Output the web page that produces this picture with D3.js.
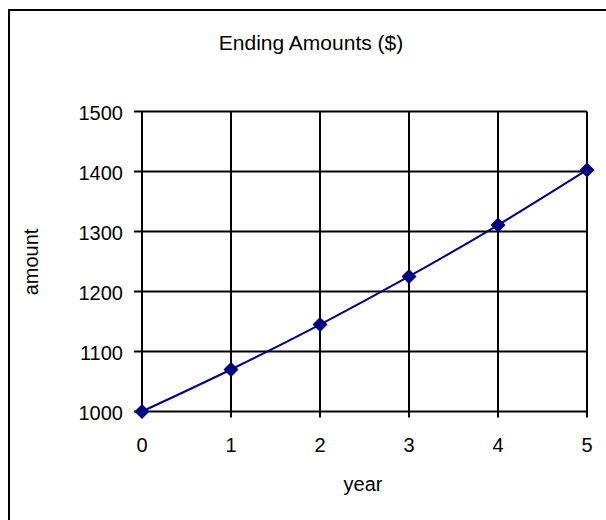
<!DOCTYPE html>
<html><head><meta charset="utf-8">
<script src="https://cdn.jsdelivr.net/npm/d3@7"></script>
<style>body{margin:0;background:#fff}svg{display:block}</style>
</head><body>
<svg id="c" width="606" height="520"></svg>
<script>
const years = [0, 1, 2, 3, 4, 5];
const amounts = [1000, 1070, 1144.9, 1225.04, 1310.8, 1402.55];
const yTicks = [1000, 1100, 1200, 1300, 1400, 1500];
const title = "Ending Amounts ($)";
const xLabel = "year";
const yLabel = "amount";

const svg = d3.select("#c");
const font = "'Liberation Sans', Arial, sans-serif";
const L = 142, R = 587, T = 111.5, B = 411.5;
const x = d3.scaleLinear().domain([0, 5]).range([L, R]);
const y = d3.scaleLinear().domain([1000, 1500]).range([B, T]);

// outer border (only top and left visible)
svg.append("rect").attr("x", 9).attr("y", 10).attr("width", 700).attr("height", 600)
  .attr("fill", "none").attr("stroke", "#000").attr("stroke-width", 2);

svg.append("text").attr("x", 311).attr("y", 50).attr("text-anchor", "middle")
  .attr("font-family", font).attr("font-size", 21).text(title);

const g = svg.append("g");
g.selectAll(".vg").data(years).join("line")
  .attr("x1", d => x(d)).attr("x2", d => x(d)).attr("y1", T).attr("y2", B + 6)
  .attr("stroke", "#000").attr("stroke-width", 2);
g.selectAll(".hg").data(yTicks).join("line")
  .attr("x1", L - 8).attr("x2", R).attr("y1", d => y(d)).attr("y2", d => y(d))
  .attr("stroke", "#000").attr("stroke-width", 2);

g.selectAll(".yl").data(yTicks).join("text")
  .attr("x", L - 19).attr("y", d => y(d) + 8).attr("text-anchor", "end")
  .attr("font-family", font).attr("font-size", 20).text(d => d);
g.selectAll(".xl").data(years).join("text")
  .attr("x", d => x(d)).attr("y", 452).attr("text-anchor", "middle")
  .attr("font-family", font).attr("font-size", 20).text(d => d);

svg.append("text").attr("x", 363).attr("y", 491).attr("text-anchor", "middle")
  .attr("font-family", font).attr("font-size", 20).text(xLabel);
svg.append("text").attr("transform", "translate(38,262) rotate(-90)").attr("text-anchor", "middle")
  .attr("font-family", font).attr("font-size", 20).text(yLabel);

const pts = years.map((d, i) => [d, amounts[i]]);
g.append("path").datum(pts)
  .attr("d", d3.line().x(d => x(d[0])).y(d => y(d[1])).curve(d3.curveCatmullRom))
  .attr("fill", "none").attr("stroke", "#000080").attr("stroke-width", 2);
g.selectAll(".m").data(pts).join("path")
  .attr("transform", d => `translate(${x(d[0])},${y(d[1])})`)
  .attr("d", "M0,-7.5L7.5,0L0,7.5L-7.5,0Z").attr("fill", "#000080");
</script>
</body></html>
